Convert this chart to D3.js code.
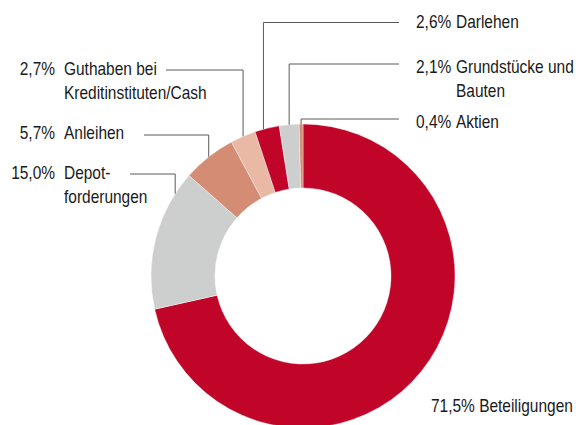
<!DOCTYPE html>
<html>
<head>
<meta charset="utf-8">
<script src="https://cdn.jsdelivr.net/npm/d3@7"></script>
<style>
  body { margin: 0; background: #fff; }
  text { font-family: "Liberation Sans", Arial, sans-serif; font-size: 18px; fill: #1a1a1a; }
</style>
</head>
<body>
<div class="canvas"></div>
<script>
// data
var categories = ["Beteiligungen", "Depotforderungen", "Anleihen", "Guthaben bei Kreditinstituten/Cash", "Darlehen", "Grundstücke und Bauten", "Aktien"];
var shares = [71.5, 15.0, 5.7, 2.7, 2.6, 2.1, 0.4];
var shareLabels = ["71,5%", "15,0%", "5,7%", "2,7%", "2,6%", "2,1%", "0,4%"];
var nameLines = [["Beteiligungen"], ["Depot-", "forderungen"], ["Anleihen"], ["Guthaben bei", "Kreditinstituten/Cash"], ["Darlehen"], ["Grundstücke und", "Bauten"], ["Aktien"]];
var colors = ["#c10529", "#cdcfce", "#d58c74", "#e9b9a6", "#c10529", "#cdcfce", "#d58c74"];

var width = 576, height = 425;
var cx = 303, cy = 276, outerR = 152, innerR = 88;
var squeeze = 0.86; // condensed look

var svg = d3.select(".canvas")
            .append("svg")
            .attr("width", width)
            .attr("height", height);

var pie = d3.pie().sort(null).value(function(d){ return d; });
var arcs = pie(shares);

var arc = d3.arc().innerRadius(innerR).outerRadius(outerR);

var g = svg.append("g").attr("transform", "translate(" + cx + "," + cy + ")");

g.selectAll("path")
  .data(arcs)
  .enter().append("path")
  .attr("d", arc)
  .attr("fill", function(d, i){ return colors[i]; })
  .attr("stroke", "#fff")
  .attr("stroke-width", 0.4);

function addText(x, y, str, anchor) {
  svg.append("text")
    .attr("transform", "translate(" + x + "," + y + ") scale(" + squeeze + ",1)")
    .attr("text-anchor", anchor || "start")
    .text(str);
}

// label layout: side, line y, where on the slice the leader hits (0..1), line end x, text baseline
var layout = [
  { side: "none", y: 412, x: 431 },
  { side: "left", lineY: 174, at: 0.84, lineX: 130, y: 179 },
  { side: "left", lineY: 135, at: 0.5, lineX: 144, y: 139 },
  { side: "left", lineY: 70, at: 0.5, lineX: 166, y: 75 },
  { side: "right", lineY: 22.5, at: 0.35, lineX: 399, y: 28 },
  { side: "right", lineY: 64, at: 0.5, lineX: 399, y: 73 },
  { side: "right", lineY: 119, at: 0.5, lineX: 399, y: 128 }
];

var pctRight = 55, nameLeftL = 64, pctLeftR = 416, nameLeftR = 456, lineH = 23.5;

arcs.forEach(function(a, i){
  var L = layout[i];
  var ang = a.startAngle + (a.endAngle - a.startAngle) * (L.at || 0.5);
  if (L.side !== "none") {
    var ax = outerR * Math.sin(ang);
    var ay = -Math.sqrt(outerR * outerR - ax * ax);
    var px = cx + ax, py = cy + ay;
    svg.append("path")
      .attr("d", "M" + L.lineX + "," + L.lineY + "H" + px + "V" + py)
      .attr("fill", "none")
      .attr("stroke", "#5a5a5a")
      .attr("stroke-width", 1);
  }

  if (L.side === "left") {
    addText(pctRight, L.y, shareLabels[i], "end");
    nameLines[i].forEach(function(t, k){
      addText(nameLeftL, L.y + k * lineH, t);
    });
  } else if (L.side === "right") {
    addText(pctLeftR, L.y, shareLabels[i]);
    nameLines[i].forEach(function(t, k){
      addText(nameLeftR, L.y + k * lineH, t);
    });
  } else {
    addText(L.x, L.y, shareLabels[i] + " " + nameLines[i][0]);
  }
});
</script>
</body>
</html>
